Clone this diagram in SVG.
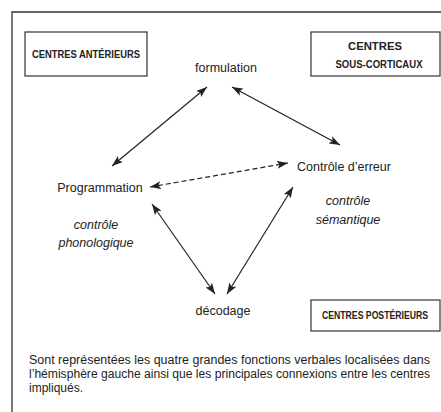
<svg xmlns="http://www.w3.org/2000/svg" width="441" height="412" viewBox="0 0 441 412">
  <style>
    .frame { fill: none; stroke: #333; stroke-width: 1.3; }
    .box { fill: #fff; stroke: #333; stroke-width: 1.2; }
    .cap { font-family: "Liberation Sans", Arial, sans-serif; font-weight: bold; font-size: 10.5px; fill: #222; }
    .lbl { font-family: "Liberation Sans", Arial, sans-serif; font-size: 12.5px; fill: #222; }
    .it { font-family: "Liberation Sans", Arial, sans-serif; font-style: italic; font-size: 12.5px; fill: #222; }
    .body { font-family: "Liberation Sans", Arial, sans-serif; font-size: 12px; fill: #222; }
    .conn { fill: none; stroke: #222; stroke-width: 1.2; }
    .dash { stroke-dasharray: 5 3; }
  </style>
  <defs>
    <marker id="ah" viewBox="0 0 11 8" refX="11" refY="4" markerWidth="11" markerHeight="8" markerUnits="userSpaceOnUse" orient="auto-start-reverse">
      <path d="M0,0 L11,4 L0,8 L2.5,4 Z" fill="#222"/>
    </marker>
  </defs>
  <rect x="0" y="0" width="441" height="412" fill="#fff"/>
  <path class="frame" d="M12,412 L12,12 L441,12"/>

  <g id="centres-anterieurs">
    <rect class="box" x="25" y="32" width="122" height="44"/>
    <text class="cap" x="86" y="58" text-anchor="middle" textLength="108" lengthAdjust="spacingAndGlyphs">CENTRES ANTÉRIEURS</text>
  </g>
  <g id="centres-sous-corticaux">
    <rect class="box" x="311" y="32" width="129" height="44"/>
    <text class="cap" x="375" y="50" text-anchor="middle" textLength="54" lengthAdjust="spacingAndGlyphs">CENTRES</text>
    <text class="cap" x="379" y="68" text-anchor="middle" textLength="87" lengthAdjust="spacingAndGlyphs">SOUS-CORTICAUX</text>
  </g>
  <g id="centres-posterieurs">
    <rect class="box" x="311" y="300" width="129" height="31"/>
    <text class="cap" x="375" y="319" text-anchor="middle" textLength="106" lengthAdjust="spacingAndGlyphs">CENTRES POSTÉRIEURS</text>
  </g>

  <g id="formulation">
    <text class="lbl" x="226" y="72" text-anchor="middle">formulation</text>
  </g>
  <g id="programmation">
    <text class="lbl" x="100" y="192" text-anchor="middle">Programmation</text>
    <text class="it" x="96" y="229" text-anchor="middle">contrôle</text>
    <text class="it" x="96" y="247" text-anchor="middle">phonologique</text>
  </g>
  <g id="controle-erreur">
    <text class="lbl" x="344" y="171" text-anchor="middle">Contrôle d’erreur</text>
    <text class="it" x="348" y="205" text-anchor="middle">contrôle</text>
    <text class="it" x="348" y="224" text-anchor="middle">sémantique</text>
  </g>
  <g id="decodage">
    <text class="lbl" x="223" y="315" text-anchor="middle">décodage</text>
  </g>

  <g id="connectors">
    <line class="conn" x1="112" y1="166" x2="207" y2="87" marker-start="url(#ah)" marker-end="url(#ah)"/>
    <line class="conn" x1="232" y1="87" x2="340" y2="145" marker-start="url(#ah)" marker-end="url(#ah)"/>
    <line class="conn dash" x1="150" y1="187" x2="288" y2="163" marker-start="url(#ah)" marker-end="url(#ah)"/>
    <line class="conn" x1="152" y1="204" x2="215" y2="294" marker-start="url(#ah)" marker-end="url(#ah)"/>
    <line class="conn" x1="227" y1="294" x2="293" y2="187" marker-start="url(#ah)" marker-end="url(#ah)"/>
  </g>

  <g id="caption">
    <text class="body" x="29" y="364" textLength="401" lengthAdjust="spacingAndGlyphs">Sont représentées les quatre grandes fonctions verbales localisées dans</text>
    <text class="body" x="29" y="378" textLength="401" lengthAdjust="spacingAndGlyphs">l’hémisphère gauche ainsi que les principales connexions entre les centres</text>
    <text class="body" x="29" y="392">impliqués.</text>
  </g>
</svg>
